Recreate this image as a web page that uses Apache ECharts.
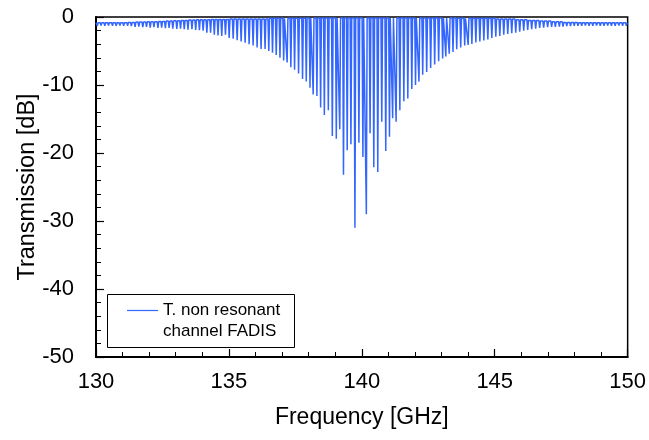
<!DOCTYPE html>
<html>
<head>
<meta charset="utf-8">
<script src="https://cdn.jsdelivr.net/npm/echarts@6/dist/echarts.min.js"></script>
<style>html,body{margin:0;padding:0;background:#fff}#c{width:649px;height:440px}</style>
</head>
<body>
<div id="c"></div>
<script>
// Resonance dip frequencies [GHz]
const dipFreq = [
130.05,130.19,130.33,130.47,130.62,130.76,130.90,131.04,131.19,131.33,
131.47,131.61,131.76,131.90,132.04,132.18,132.33,132.47,132.61,132.75,
132.89,133.04,133.18,133.32,133.46,133.61,133.75,133.89,134.03,134.17,
134.31,134.45,134.59,134.73,134.87,135.01,135.16,135.31,135.46,135.61,
135.76,135.91,136.06,136.21,136.36,136.50,136.64,136.78,136.92,137.06,
137.19,137.33,137.47,137.62,137.77,137.91,138.05,138.17,138.31,138.45,
138.59,138.74,138.89,139.04,139.17,139.31,139.45,139.59,139.74,139.89,
140.04,140.17,140.31,140.45,140.60,140.75,140.90,141.04,141.16,141.29,
141.43,141.58,141.73,141.88,142.02,142.15,142.29,142.44,142.59,142.74,
142.89,143.04,143.16,143.29,143.43,143.57,143.72,143.87,144.00,144.14,
144.29,144.44,144.59,144.74,144.89,145.04,145.19,145.34,145.49,145.64,
145.79,145.94,146.09,146.24,146.39,146.54,146.69,146.84,146.99,147.14,
147.28,147.43,147.57,147.71,147.85,147.99,148.13,148.27,148.41,148.55,
148.69,148.83,148.97,149.11,149.25,149.39,149.53,149.67,149.81,149.95
];
// Transmission at the bottom of each dip [dB]
const dipDepth = [
-1.30,-1.25,-1.30,-1.25,-1.30,-1.30,-1.25,-1.30,-1.30,-1.35,
-1.45,-1.40,-1.50,-1.45,-1.55,-1.50,-1.60,-1.55,-1.65,-1.60,
-1.70,-1.75,-1.70,-1.80,-1.85,-1.80,-1.90,-1.95,-2.00,-2.30,
-2.30,-2.60,-2.70,-2.80,-2.60,-3.10,-3.20,-3.40,-3.60,-3.80,
-4.00,-4.20,-4.50,-4.70,-4.70,-5.00,-5.25,-5.60,-6.00,-6.40,
-6.70,-7.40,-7.75,-8.30,-9.10,-9.50,-10.4,-11.4,-11.6,-13.3,
-14.4,-13.7,-17.5,-17.9,-16.5,-23.2,-19.6,-18.7,-31.0,-18.5,
-20.6,-29.0,-17.1,-22.1,-22.8,-15.4,-19.7,-17.6,-14.9,-15.4,
-13.7,-12.4,-12.0,-10.6,-10.0,-9.50,-8.50,-8.10,-7.50,-7.00,
-6.50,-6.10,-5.80,-5.40,-5.15,-4.75,-4.50,-4.20,-4.10,-3.95,
-3.75,-3.60,-3.45,-3.30,-3.10,-2.90,-2.80,-2.60,-2.50,-2.40,
-2.30,-2.15,-2.00,-1.90,-1.80,-1.70,-1.60,-1.55,-1.50,-1.45,
-1.45,-1.40,-1.40,-1.35,-1.35,-1.30,-1.30,-1.30,-1.25,-1.30,
-1.30,-1.25,-1.30,-1.30,-1.25,-1.30,-1.30,-1.25,-1.30,-1.30
];
// Transmission level of the plateau following each dip [dB]
const peakLevel = [
-0.85,-0.85,-0.85,-0.85,-0.85,-0.85,-0.85,-0.85,-0.80,-0.80,
-0.75,-0.75,-0.75,-0.70,-0.70,-0.70,-0.65,-0.65,-0.60,-0.60,
-0.55,-0.55,-0.50,-0.50,-0.45,-0.45,-0.40,-0.40,-0.40,-0.40,
-0.35,-0.35,-0.35,-0.35,-0.35,-0.30,-0.30,-0.30,-0.30,-0.30,
-0.30,-0.30,-0.30,-0.30,-0.30,-0.20,-0.20,-0.20,-0.20,-0.20,
-0.20,-0.20,-0.20,-0.20,-0.20,-0.15,-0.15,-0.15,-0.15,-0.15,
-0.15,-0.15,-0.15,-0.15,-0.15,-0.15,-0.15,-0.15,-0.15,-0.15,
-0.15,-0.15,-0.15,-0.15,-0.15,-0.15,-0.15,-0.15,-0.15,-0.15,
-0.15,-0.15,-0.15,-0.15,-0.15,-0.15,-0.15,-0.15,-0.15,-0.15,
-0.15,-0.15,-0.15,-0.15,-0.15,-0.20,-0.20,-0.20,-0.20,-0.20,
-0.20,-0.20,-0.20,-0.20,-0.20,-0.30,-0.30,-0.30,-0.30,-0.30,
-0.40,-0.40,-0.40,-0.50,-0.50,-0.50,-0.60,-0.60,-0.60,-0.70,
-0.70,-0.70,-0.80,-0.80,-0.80,-0.80,-0.85,-0.85,-0.85,-0.85,
-0.85,-0.85,-0.85,-0.85,-0.85,-0.85,-0.85,-0.85,-0.85,-0.85
];
const xTicks = [130, 135, 140, 145, 150];
const yTicks = [-50, -40, -30, -20, -10, 0];
const seriesName = 'T. non resonant\nchannel FADIS';

// build polyline: narrow V at each dip, plateau in between
const halfWidth = 0.03;
const data = [[xTicks[0], peakLevel[0]]];
for (let i = 0; i < dipFreq.length; i++) {
  const prev = i === 0 ? peakLevel[0] : peakLevel[i - 1];
  data.push([dipFreq[i] - halfWidth, prev]);
  data.push([dipFreq[i], dipDepth[i]]);
  data.push([dipFreq[i] + halfWidth, peakLevel[i]]);
}
data.push([xTicks[xTicks.length - 1], peakLevel[peakLevel.length - 1]]);

const FONT = '"Liberation Sans", Arial, sans-serif';
const chart = echarts.init(document.getElementById('c'), null, {renderer: 'canvas'});
chart.setOption({
  animation: false,
  backgroundColor: '#fff',
  grid: {left: 96, right: 20, top: 17, bottom: 83, show: true, borderColor: '#000', borderWidth: 1.5, backgroundColor: 'transparent'},
  xAxis: {
    type: 'value', min: xTicks[0], max: xTicks[xTicks.length - 1], interval: 5,
    name: 'Frequency [GHz]', nameLocation: 'middle', nameGap: 49,
    nameMoveOverlap: false,
    nameTextStyle: {fontFamily: FONT, fontSize: 23, color: '#000'},
    axisLine: {show: true, onZero: false, lineStyle: {color: '#000', width: 2}},
    axisTick: {show: true, inside: true, length: 8, lineStyle: {color: '#000', width: 1.2}},
    minorTick: {show: true, splitNumber: 5, length: 5, lineStyle: {color: '#000', width: 1}},
    axisLabel: {fontFamily: FONT, fontSize: 22, color: '#000', margin: 14},
    splitLine: {show: false}
  },
  yAxis: {
    type: 'value', min: yTicks[0], max: yTicks[yTicks.length - 1], interval: 10,
    name: 'Transmission [dB]', nameLocation: 'middle', nameGap: 56, nameRotate: 90,
    nameMoveOverlap: false,
    nameTextStyle: {fontFamily: FONT, fontSize: 23.5, color: '#000'},
    axisLine: {show: true, onZero: false, lineStyle: {color: '#000', width: 2}},
    axisTick: {show: true, inside: true, length: 8, lineStyle: {color: '#000', width: 1.2}},
    minorTick: {show: true, splitNumber: 5, length: 5, lineStyle: {color: '#000', width: 1}},
    axisLabel: {fontFamily: FONT, fontSize: 22, color: '#000', margin: 22},
    splitLine: {show: false}
  },
  series: [{
    name: seriesName,
    type: 'line',
    data: data,
    showSymbol: false,
    symbol: 'none',
    clip: true,
    lineStyle: {color: '#3366ff', width: 1.5},
    itemStyle: {color: '#3366ff'}
  }],
  graphic: [
    {type: 'rect', left: 107, top: 294, shape: {width: 187, height: 53}, style: {fill: '#fff', stroke: '#000', lineWidth: 1}, z: 100},
    {type: 'line', shape: {x1: 127, y1: 310.5, x2: 158, y2: 310.5}, style: {stroke: '#3366ff', lineWidth: 1.2}, z: 101},
    {type: 'text', left: 163, top: 300, style: {text: seriesName, font: '17px ' + FONT, fill: '#000', lineHeight: 21}, z: 101}
  ]
});
</script>
</body>
</html>
